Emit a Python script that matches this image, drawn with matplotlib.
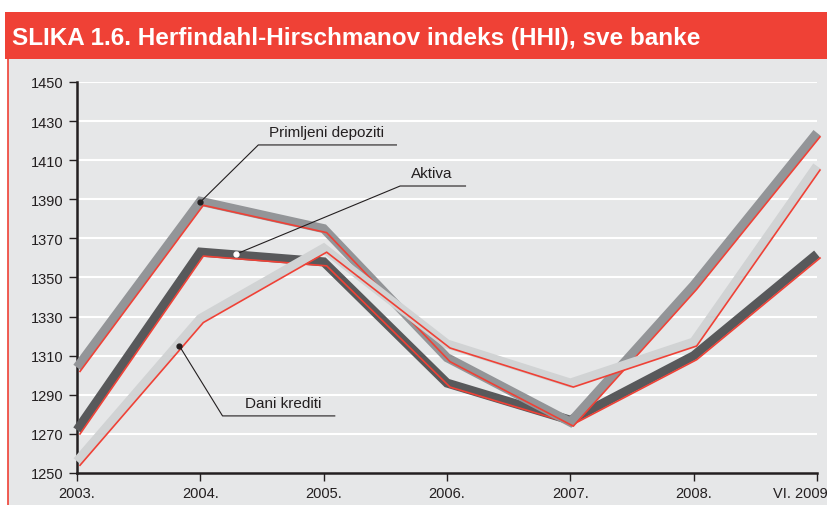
import matplotlib.pyplot as plt
import matplotlib.transforms as mtransforms
from matplotlib.patches import Rectangle

plt.rcParams['font.family'] = ['Liberation Sans', 'DejaVu Sans']

years = ['2003.', '2004.', '2005.', '2006.', '2007.', '2008.', 'VI. 2009.']
depoziti = [1304, 1389, 1375, 1309, 1276, 1346, 1424]
aktiva = [1272, 1363, 1358, 1296, 1277, 1310, 1362]
krediti = [1256, 1329, 1365, 1316, 1296, 1317, 1407]

fig = plt.figure(figsize=(8.27, 5.06), dpi=100)

# header bar and grey panel
fig.patches.append(Rectangle((8 / 827, 0), 1, 446 / 506, transform=fig.transFigure,
                             facecolor='#e6e7e8', edgecolor='none', zorder=-2))
fig.add_artist(plt.Line2D([8 / 827, 8 / 827], [0, 446 / 506], color='#ef4136', lw=1.2, zorder=-1))
fig.patches.append(Rectangle((5 / 827, 446 / 506), 1, 47 / 506, transform=fig.transFigure,
                             facecolor='#ef4136', edgecolor='none', zorder=-2))
fig.text(12 / 827, 467 / 506, 'SLIKA 1.6. Herfindahl-Hirschmanov indeks (HHI), sve banke',
         color='white', fontsize=17.5, fontweight='bold', va='center', ha='left')

ax = fig.add_axes([77 / 827, 32 / 506, 740 / 827, 391 / 506])
ax.set_zorder(2)
ax.set_facecolor('none')
x = list(range(len(years)))

ax.set_xlim(0, 6)
ax.set_ylim(1250, 1450)
ax.set_yticks(range(1250, 1451, 20))
ax.set_xticks(x)
ax.set_xticklabels(years[:-1] + [''])
ax.hlines(range(1270, 1451, 20), 0, 6, colors='white', lw=1.5, zorder=1)
# last label sits left of its tick and runs off the edge, as in the source
ax.annotate(years[-1], xy=(5.64, 0), xycoords=('data', 'axes fraction'),
            xytext=(0, -9.5), textcoords='offset points', ha='left', va='top',
            fontsize=10.5, color='#231f20', annotation_clip=False)

for s in ['top', 'right']:
    ax.spines[s].set_visible(False)
for s in ['left', 'bottom']:
    ax.spines[s].set_linewidth(1.8)
    ax.spines[s].set_color('#231f20')
ax.tick_params(axis='both', direction='out', length=6, width=1, color='#231f20',
               labelsize=10.5, labelcolor='#231f20')

shift = mtransforms.offset_copy(ax.transData, fig=fig, x=3, y=-4, units='dots')

for vals, col in [(aktiva, '#58595b'), (depoziti, '#939598'), (krediti, '#d1d3d4')]:
    ax.plot(x, vals, color=col, lw=6.5, solid_joinstyle='miter', solid_capstyle='butt',
            zorder=3, clip_on=False)
    ax.plot(x, vals, color='#ef4136', lw=1.2, transform=shift, zorder=3, clip_on=False)

# labels with leader lines
ax.plot([1.0, 1.47, 2.59], [1388.6, 1417.8, 1417.8], color='#231f20', lw=0.8, zorder=5)
ax.plot(1.0, 1388.6, 'o', color='#231f20', ms=3.5, zorder=5)
ax.text(2.02, 1421, 'Primljeni depoziti', ha='center', va='bottom', fontsize=11, color='#231f20')

ax.plot([1.29, 2.62, 3.15], [1362, 1396.8, 1396.8], color='#231f20', lw=0.8, zorder=5)
ax.plot(1.29, 1362, 'o', color='white', ms=3.5, zorder=5)
ax.text(2.88, 1400, 'Aktiva', ha='center', va='bottom', fontsize=11, color='#231f20')

ax.plot([0.83, 1.18, 2.09], [1315, 1279.2, 1279.2], color='#231f20', lw=0.8, zorder=5)
ax.plot(0.83, 1315, 'o', color='#231f20', ms=3.5, zorder=5)
ax.text(1.67, 1282.4, 'Dani krediti', ha='center', va='bottom', fontsize=11, color='#231f20')

fig.savefig('out.png', dpi=100)
